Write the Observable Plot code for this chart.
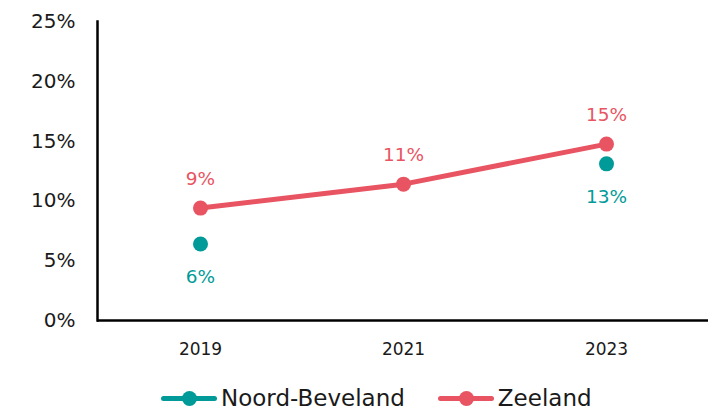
<!DOCTYPE html>
<html>
<head>
<meta charset="utf-8">
<script src="https://cdn.jsdelivr.net/npm/d3@7"></script>
<script src="https://cdn.jsdelivr.net/npm/@observablehq/plot@0.6"></script>
<style>
  html, body { margin: 0; background: #fff; font-family: "DejaVu Sans", sans-serif; overflow: hidden; }
  #chart { width: 715px; height: 410px; position: relative; }
  .legend { position: absolute; top: 386px; left: 161px; display: flex; justify-content: flex-start; gap: 33px; font-size: 23px; line-height: 24px; color: #1a1a1a; }
  .item { display: flex; align-items: center; height: 24px; }
  .sw { position: relative; width: 56px; height: 24px; margin-right: 4px; }
  .sw .ln { position: absolute; left: 0; right: 0; top: 10px; height: 5px; border-radius: 3px; }
  .sw .dt { position: absolute; left: 21px; top: 5px; width: 15px; height: 15px; border-radius: 50%; }
</style>
</head>
<body>
<div id="chart"></div>
<script>
const years = ["2019", "2021", "2023"];
const seriesNames = ["Noord-Beveland", "Zeeland"];
const noordBeveland = [6.4, null, 13.1];
const zeeland = [9.4, 11.4, 14.75];
const labelsNB = ["6%", null, "13%"];
const labelsZ = ["9%", "11%", "15%"];
const yTicks = [0, 5, 10, 15, 20, 25];
const colors = ["#009b98", "#e85462"];

const zData = years.map((y, i) => ({year: y, value: zeeland[i], label: labelsZ[i]}));
const nbData = years.map((y, i) => ({year: y, value: noordBeveland[i], label: labelsNB[i]})).filter(d => d.value != null);

const font = "DejaVu Sans, sans-serif";
const plot = Plot.plot({
  width: 715,
  height: 370,
  marginLeft: 97,
  marginRight: 7,
  marginTop: 21,
  marginBottom: 50,
  style: {fontFamily: font, background: "#fff"},
  x: {type: "point", domain: years, padding: 0.5, label: null},
  y: {domain: [0, 25], label: null},
  marks: [
    Plot.axisY({ticks: yTicks, tickFormat: d => d + "%", tickSize: 0, tickPadding: 22, fontSize: 20, fill: "#1a1a1a"}),
    Plot.axisX({tickSize: 0, tickPadding: 22, fontSize: 17, fill: "#1a1a1a"}),
    Plot.frame({anchor: "left", stroke: "#000", strokeWidth: 2.5}),
    Plot.ruleY([0], {stroke: "#000", strokeWidth: 2.5}),
    Plot.line(zData, {x: "year", y: "value", stroke: colors[1], strokeWidth: 5}),
    Plot.dot(zData, {x: "year", y: "value", r: 7.5, fill: colors[1]}),
    Plot.dot(nbData, {x: "year", y: "value", r: 7.5, fill: colors[0]}),
    Plot.text(zData, {x: "year", y: "value", text: "label", dy: -29, fill: colors[1], fontSize: 18.5}),
    Plot.text(nbData, {x: "year", y: "value", text: "label", dy: 33, fill: colors[0], fontSize: 18.5})
  ]
});
const chart = document.getElementById("chart");
chart.appendChild(plot);

const legend = document.createElement("div");
legend.className = "legend";
seriesNames.forEach((name, i) => {
  const item = document.createElement("div");
  item.className = "item";
  item.innerHTML = `<div class="sw"><div class="ln" style="background:${colors[i]}"></div><div class="dt" style="background:${colors[i]}"></div></div><span>${name}</span>`;
  legend.appendChild(item);
});
chart.appendChild(legend);
</script>
</body>
</html>
